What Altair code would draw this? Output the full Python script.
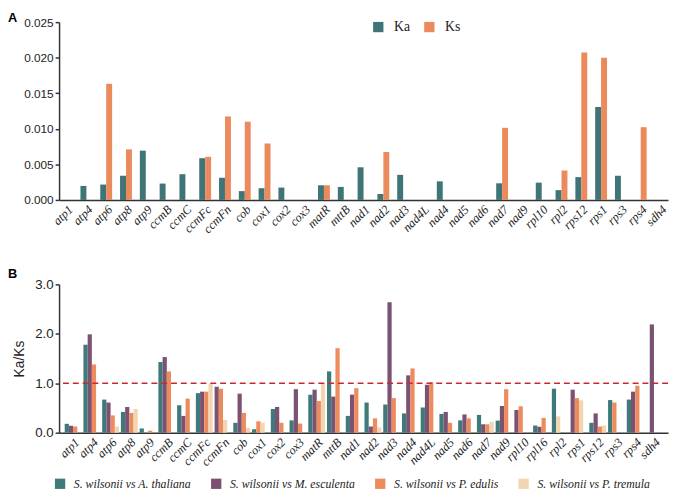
import altair as alt
import pandas as pd

# ---------------- Panel A data ----------------
genes_top = ["atp1", "atp4", "atp6", "atp8", "atp9", "ccmB", "ccmC", "ccmFc", "ccmFn", "cob",
             "cox1", "cox2", "cox3", "matR", "mttB", "nad1", "nad2", "nad3", "nad4L", "nad4",
             "nad5", "nad6", "nad7", "nad9", "rpl10", "rpl2", "rps12", "rps1", "rps3", "rps4", "sdh4"]
ka_values = [0, 0.00197, 0.00216, 0.0034, 0.00693, 0.0023, 0.00362, 0.00587, 0.00312, 0.00124,
             0.00165, 0.00174, 0, 0.00206, 0.00183, 0.00459, 0.00083, 0.00353, 0, 0.00261,
             0, 0, 0.00234, 0, 0.00243, 0.00138, 0.00321, 0.01307, 0.0034, 0, 0]
ks_values = [0, 0, 0.01633, 0.00711, 0, 0, 0, 0.00606, 0.01174, 0.0110,
             0.00794, 0, 0, 0.00206, 0, 0, 0.00674, 0, 0, 0,
             0, 0, 0.01014, 0, 0, 0.00413, 0.02073, 0.0200, 0, 0.01023, 0]
top_types = ["Ka", "Ks"]
top_colors = ["#3f7577", "#ea8a5d"]
top_ticks = [0, 0.005, 0.010, 0.015, 0.020, 0.025]

# ---------------- Panel B data ----------------
genes_bot = ["atp1", "atp4", "atp6", "atp8", "atp9", "ccmB", "ccmC", "ccmFc", "ccmFn", "cob",
             "cox1", "cox2", "cox3", "matR", "mttB", "nad1", "nad2", "nad3", "nad4", "nad4L",
             "nad5", "nad6", "nad7", "nad9", "rpl10", "rpl16", "rpl2", "rps1", "rps12", "rps3",
             "rps4", "sdh4"]
ath = [0.18, 1.78, 0.67, 0.42, 0.086, 1.43, 0.555, 0.80, None, 0.20,
       0.07, 0.48, 0.25, 0.77, 1.24, 0.34, 0.61, 0.57, 0.39, 0.51,
       0.38, 0.25, 0.36, 0.245, None, 0.145, 0.89, None, 0.20, 0.66,
       0.67, 0]
mes = [0.14, 1.99, 0.61, 0.52, 0, 1.53, 0.34, 0.83, 0.93, 0.79,
       None, 0.52, 0.88, 0.87, 0.73, 0.77, 0.125, 2.64, 1.16, 0.97,
       0.42, 0.37, 0.17, 0.54, 0.46, 0.12, None, 0.87, 0.39, None,
       0.83, 2.19]
ped = [0.125, 1.38, 0.35, 0.40, 0.04, 1.24, 0.69, 0.83, 0.89, 0.40,
       0.23, 0.20, 0.185, 0.64, 1.71, 0.90, 0.29, 0.70, 1.30, 1.02,
       0.20, 0.29, 0.17, 0.88, 0.535, 0.30, None, 0.70, 0.125, 0.61,
       0.95, None]
ptr = [None, None, 0.125, 0.48, None, None, None, 0.99, 0.26, 0.10,
       0.205, None, None, 1.0, None, None, 0.11, None, None, None,
       None, None, 0.22, None, None, None, 0.33, 0.655, 0.145, None,
       None, None]
pairs = ["S. wilsonii vs A. thaliana", "S. wilsonii vs M. esculenta",
         "S. wilsonii vs P. edulis", "S. wilsonii vs P. tremula"]
pair_colors = ["#3f7a7b", "#7b5272", "#ed8b5d", "#f2d6b4"]
bot_ticks = [0, 0.5, 1.0, 1.5, 2.0, 2.5, 3.0]
threshold = [1.0]

# ---------------- tables ----------------
top_rows = []
for g, a, s in zip(genes_top, ka_values, ks_values):
    top_rows.append({"gene": g, "type": "Ka", "value": a})
    top_rows.append({"gene": g, "type": "Ks", "value": s})
top_df = pd.DataFrame(top_rows)

bot_rows = []
for i, g in enumerate(genes_bot):
    slot = 0
    for name, vals in zip(pairs, [ath, mes, ped, ptr]):
        v = vals[i]
        if v is None:
            continue
        bot_rows.append({"gene": g, "pair": name, "ratio": v, "slot": slot})
        slot += 1
bot_df = pd.DataFrame(bot_rows)
thr_df = pd.DataFrame({"y": threshold})

AX = "#333333"
LAB = "#222222"

top = alt.Chart(top_df).mark_bar().encode(
    x=alt.X("gene:N", sort=genes_top,
            scale=alt.Scale(paddingInner=0.4, paddingOuter=0.08),
            axis=alt.Axis(title=None, labelAngle=-45, labelFont="Liberation Serif",
                          labelFontStyle="italic", labelFontSize=12.5, ticks=False,
                          domainColor=AX, domainWidth=1.5, labelColor=LAB, labelPadding=3)),
    xOffset=alt.XOffset("type:N", sort=top_types,
                        scale=alt.Scale(domain=top_types, paddingInner=0, paddingOuter=0)),
    y=alt.Y("value:Q", scale=alt.Scale(domain=[0, 0.025], nice=False),
            axis=alt.Axis(title=None, values=top_ticks, format=".3f", labelFont="Liberation Sans",
                          labelFontSize=12, labelColor=LAB, domainColor=AX, domainWidth=1.5,
                          tickColor=AX, tickWidth=1.5, tickSize=4, grid=False)),
    color=alt.Color("type:N", scale=alt.Scale(domain=top_types, range=top_colors),
                    legend=alt.Legend(title=None, orient="none", legendX=318, legendY=-2,
                                      direction="horizontal", symbolType="square",
                                      symbolSize=110, symbolStrokeWidth=0,
                                      labelFont="Liberation Serif", labelFontSize=14,
                                      labelColor=LAB, columnPadding=12, labelOffset=9))
).properties(
    width=620, height=181,
    title=alt.TitleParams(text="A", anchor="start", frame="group", dx=-52, dy=12, offset=3,
                          font="Liberation Sans", fontSize=13, fontWeight="bold", color="#000")
)

bars = alt.Chart(bot_df).mark_bar().encode(
    x=alt.X("gene:N", sort=genes_bot,
            scale=alt.Scale(paddingInner=0.1, paddingOuter=0.3),
            axis=alt.Axis(title=None, labelAngle=-45, labelFont="Liberation Serif",
                          labelFontStyle="italic", labelFontSize=12.5, ticks=False,
                          domainColor=AX, domainWidth=1.5, labelColor=LAB, labelPadding=3)),
    xOffset=alt.XOffset("slot:O", scale=alt.Scale(domain=[0, 1, 2, 3], paddingInner=0, paddingOuter=0)),
    y=alt.Y("ratio:Q", scale=alt.Scale(domain=[0, 3], nice=False),
            axis=alt.Axis(title="Ka/Ks", values=bot_ticks, format=".1f", labelFont="Liberation Sans",
                          labelFontSize=13.5, labelColor=LAB, domainColor=AX, domainWidth=1.5,
                          tickColor=AX, tickWidth=1.5, tickSize=4, grid=False,
                          titleFont="Liberation Sans", titleFontSize=14, titleFontWeight="normal",
                          titleColor=LAB, titlePadding=8)),
    color=alt.Color("pair:N", scale=alt.Scale(domain=pairs, range=pair_colors),
                    legend=alt.Legend(title=None, orient="none", legendX=-5, legendY=197,
                                      direction="horizontal", symbolType="square",
                                      symbolSize=110, symbolStrokeWidth=0,
                                      labelFont="Liberation Serif", labelFontStyle="italic",
                                      labelFontSize=12, labelColor=LAB, labelLimit=0,
                                      columnPadding=19, labelOffset=8))
)

rule = alt.Chart(thr_df).mark_rule(color="#c62a2f", strokeWidth=1.6, strokeDash=[6, 4]).encode(
    y=alt.Y("y:Q")
)

bottom = alt.layer(bars, rule).properties(
    width=620, height=151,
    title=alt.TitleParams(text="B", anchor="start", frame="group", dx=-52, dy=6, offset=3,
                          font="Liberation Sans", fontSize=13, fontWeight="bold", color="#000")
)

chart = alt.vconcat(top, bottom, spacing=33).resolve_scale(
    color="independent", x="independent", y="independent", xOffset="independent"
).resolve_legend(color="independent").properties(padding=0).configure_view(stroke=None)

chart.save("out.html", embed_options={"renderer": "svg", "actions": False})
